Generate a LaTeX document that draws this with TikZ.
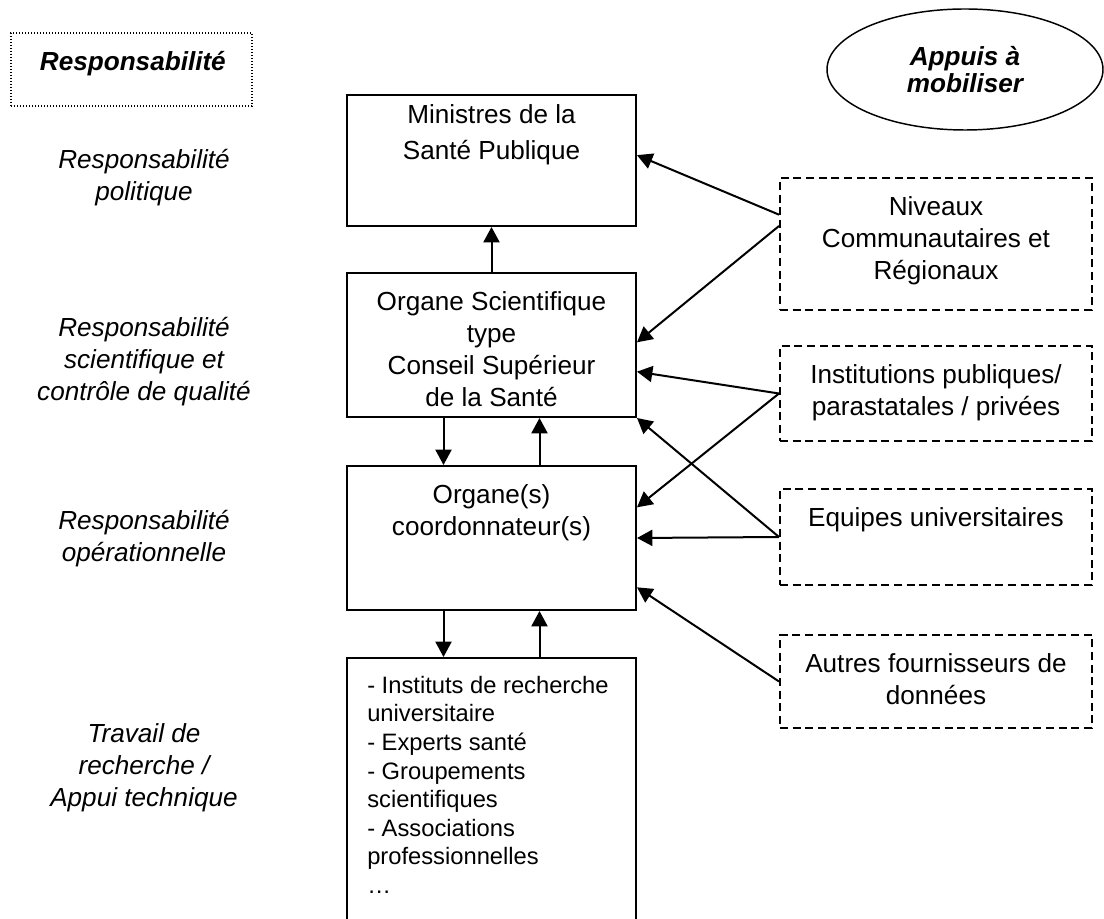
\documentclass[tikz,border=0pt]{standalone}
\usepackage{fontspec}
\setmainfont{Liberation Sans}
\usepackage{tikz}
\usetikzlibrary{arrows.meta,shapes.geometric,positioning}

\tikzset{
  txt/.style={inner sep=0pt, align=center, font=\fontsize{19.6pt}{24pt}\selectfont},
  side/.style={txt, anchor=north, font=\fontsize{19.6pt}{24pt}\selectfont\itshape},
  mainbox/.style={draw, line width=1.5pt, minimum width=216.75pt, inner sep=0pt},
  supportbox/.style={draw, line width=1.5pt, dash pattern=on 6pt off 3.5pt,
    minimum width=234pt, inner sep=0pt},
  arr/.style={line width=1.5pt, -{Triangle[length=11.5pt,width=12pt]}}
}

\begin{document}
\begin{tikzpicture}[x=0.75pt, y=-0.75pt]
  \useasboundingbox (0,0) rectangle (1104,919);

  % en-tetes
  \node[draw, line width=1pt, dash pattern=on 0.9pt off 1.35pt,
        minimum width=180.75pt, minimum height=54.75pt] (hdr) at (131.5,69.5) {};
  \node[txt, below=14.25pt of hdr.north, xshift=1pt,
        font=\fontsize{19.6pt}{24pt}\selectfont\bfseries\itshape] (hdrtext) {Responsabilit\'e};
  \node[draw, ellipse, line width=1.1pt, minimum width=207pt, minimum height=90.75pt,
        txt, font=\fontsize{19.6pt}{20.7pt}\selectfont\bfseries\itshape]
        (appuis) at (965,69.5) {Appuis \`a\\mobiliser};

  % colonne de gauche
  \node[side] (lpol) at (144,149) {Responsabilit\'e\\politique};
  \node[side] (lsci) at (144,317) {Responsabilit\'e\\scientifique et\\contr\^ole de qualit\'e};
  \node[side] (lope) at (144,510) {Responsabilit\'e\\op\'erationnelle};
  \node[side] (ltrv) at (144,723) {Travail de\\recherche /\\Appui technique};

  % boites centrales
  \node[mainbox, minimum height=98.25pt] (minist) at (491.5,160.5) {};
  \node[mainbox, minimum height=108pt] (orgsci) at (491.5,345) {};
  \node[mainbox, minimum height=108pt] (coord) at (491.5,538) {};
  \node[mainbox, minimum height=204pt] (instit) at (491.5,794) {};

  \node[txt, below=8pt of minist.north, font=\fontsize{19.6pt}{27pt}\selectfont] (tminist)
    {Ministres de la\\Sant\'e Publique};
  \node[txt, below=14.25pt of orgsci.north] (torgsci)
    {Organe Scientifique\\type\\Conseil Sup\'erieur\\de la Sant\'e};
  \node[txt, below=14.25pt of coord.north] (tcoord) {Organe(s)\\coordonnateur(s)};
  \node[txt, align=left, below right=14.25pt and 15.75pt of instit.north west,
        font=\fontsize{17.8pt}{21.4pt}\selectfont] (tinstit)
    {- Instituts de recherche\\universitaire\\- Experts sant\'e\\- Groupements\\scientifiques\\- Associations\\professionnelles\\\dots};

  % appuis
  \node[supportbox, minimum height=99pt] (niv) at (936,244) {};
  \node[supportbox, minimum height=71.25pt] (inst) at (936,393.5) {};
  \node[supportbox, minimum height=72pt] (equip) at (936,537) {};
  \node[supportbox, minimum height=69.75pt] (autres) at (936,681.5) {};

  \node[txt, below=14.25pt of niv.north] (tniv) {Niveaux\\Communautaires et\\R\'egionaux};
  \node[txt, below=14.25pt of inst.north] (tinst) {Institutions publiques/\\parastatales / priv\'ees};
  \node[txt, below=14.25pt of equip.north] (tequip) {Equipes universitaires};
  \node[txt, below=14.25pt of autres.north] (tautres) {Autres fournisseurs de\\donn\'ees};

  % liaisons verticales
  \draw[arr] (orgsci.north) -- (minist.south);
  \draw[arr] ([xshift=-36pt]orgsci.south) -- ([xshift=-36pt]coord.north);
  \draw[arr] ([xshift=36pt]coord.north) -- ([xshift=36pt]orgsci.south);
  \draw[arr] ([xshift=-36pt]coord.south) -- ([xshift=-36pt]instit.north);
  \draw[arr] ([xshift=36pt]instit.north) -- ([xshift=36pt]coord.south);

  % liaisons des appuis
  \draw[arr] ([yshift=22pt]niv.west) -- ([yshift=4pt]minist.east);
  \draw[arr] ([yshift=13.5pt]niv.west) -- ([yshift=2pt]orgsci.east);
  \draw[arr] (inst.west) -- ([yshift=-20pt]orgsci.east);
  \draw[arr] (inst.west) -- ([yshift=23pt]coord.east);
  \draw[arr] (equip.west) -- (orgsci.south east);
  \draw[arr] (equip.west) -- (coord.east);
  \draw[arr] (autres.west) -- ([yshift=-37pt]coord.east);
\end{tikzpicture}
\end{document}
